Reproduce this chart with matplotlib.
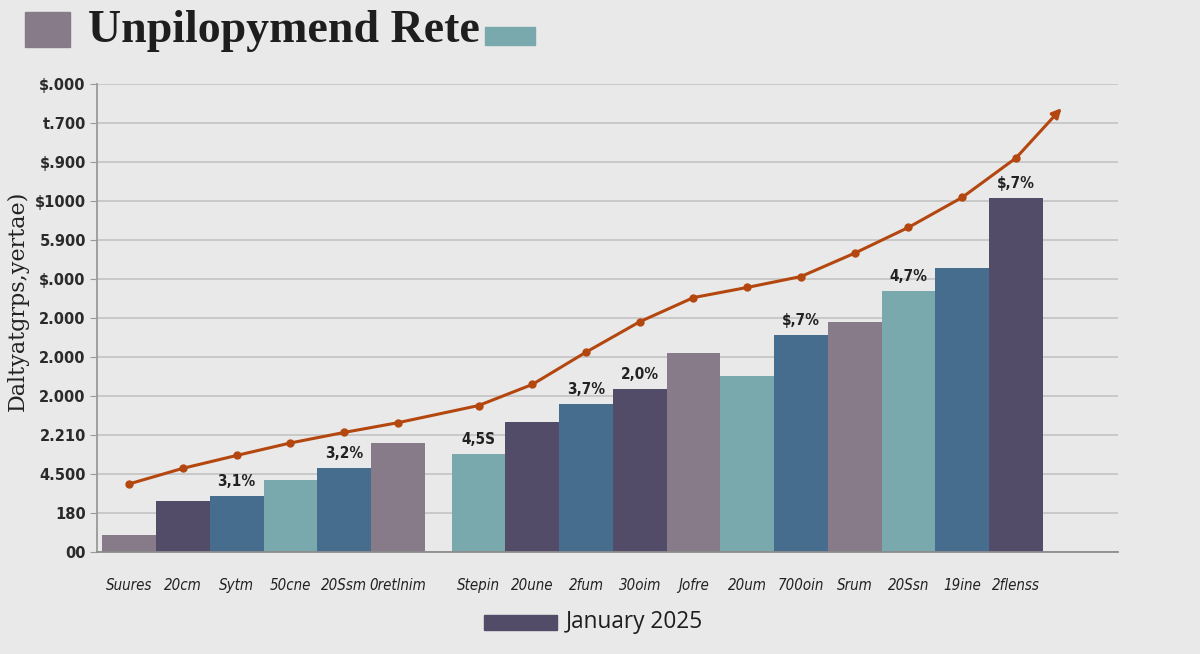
import numpy as np
import matplotlib
matplotlib.use("Agg")
import matplotlib.pyplot as plt
from matplotlib.patches import Rectangle

# ---------------- data ----------------
categories = ["Suures", "20cm", "Sytm", "50cne", "20Ssm", "0retlnim",
              "Stepin", "20une", "2fum", "30oim", "Jofre", "20um",
              "700oin", "Srum", "20Ssn", "19ine", "2flenss"]
bar_values = [0.42, 1.31, 1.42, 1.83, 2.16, 2.78, 2.50, 3.34, 3.78, 4.18,
              5.10, 4.50, 5.56, 5.90, 6.68, 7.27, 9.08]
line_values = [1.74, 2.14, 2.47, 2.79, 3.06, 3.31, 3.75, 4.29, 5.12, 5.90,
               6.52, 6.78, 7.06, 7.66, 8.32, 9.09, 10.10]
arrow_tip = (17.35, 11.38)
bar_color_keys = ["m", "d", "s", "t", "s", "m", "t", "d", "s", "d",
                  "m", "t", "s", "m", "t", "s", "d"]
bar_labels = {2: "3,1%", 4: "3,2%", 6: "4,5S", 8: "3,7%", 9: "2,0%",
              12: "$,7%", 14: "4,7%", 16: "$,7%"}
ytick_labels = ["00", "180", "4.500", "2.210", "2.000", "2.000", "2.000",
                "$.000", "5.900", "$1000", "$.900", "t.700", "$.000"]
title = "Unpilopymend Rete"
ylabel = "Daltyatgrps,yertae)"
legend_label = "January 2025"

palette = {"m": "#887b89", "d": "#524c69", "s": "#476d8e", "t": "#7aa9ad"}
bg = "#e9e9e9"
line_color = "#b4470f"

# ---------------- figure ----------------
fig = plt.figure(figsize=(12, 6.54), dpi=100, facecolor=bg)
ax = fig.add_axes([0.0808, 0.1564, 0.9317 - 0.0808, 0.8716 - 0.1564])
ax.set_facecolor(bg)

idx = np.arange(len(categories))
xpos = idx + 0.5 * (idx >= 6)
colors = [palette[k] for k in bar_color_keys]

ax.bar(xpos, bar_values, width=1.0, color=colors, edgecolor="none", zorder=2)

ax.plot(xpos, line_values, color=line_color, lw=2.2, marker="o", ms=5,
        zorder=4)
ax.annotate("", xy=arrow_tip, xytext=(xpos[-1], line_values[-1]),
            arrowprops=dict(arrowstyle="-|>", color=line_color, lw=2.2,
                            mutation_scale=14, shrinkA=0, shrinkB=0),
            zorder=4)

for i, txt in bar_labels.items():
    ax.text(xpos[i], bar_values[i] + 0.18, txt, ha="center", va="bottom",
            fontsize=11, color="#222222", fontweight="semibold",
            family="DejaVu Sans", stretch="condensed", zorder=5)

ax.set_xlim(-0.6, 18.4)
ax.set_ylim(0, 12)
ax.set_yticks(np.arange(13))
ax.set_yticklabels(ytick_labels, fontsize=10.5, fontweight="bold",
                   color="#2a2a2a")
ax.yaxis.grid(True, color="#c6c6c6", lw=1.3, zorder=0)
ax.set_axisbelow(True)
ax.tick_params(axis="y", length=5, color="#9a9a9a", pad=3)

ax.set_xticks(xpos)
ax.set_xticklabels(categories, fontsize=10.8, style="italic",
                   family="DejaVu Sans", stretch="condensed",
                   color="#222222")
ax.tick_params(axis="x", length=0, pad=19)

for s in ["top", "right"]:
    ax.spines[s].set_visible(False)
ax.spines["left"].set_color("#999999")
ax.spines["left"].set_linewidth(1.3)
ax.spines["bottom"].set_color("#8c8c8c")
ax.spines["bottom"].set_linewidth(1.3)

ax.set_ylabel(ylabel, family="DejaVu Serif", fontsize=16, color="#222222")
ax.yaxis.set_label_coords(-0.067, 0.536)

# title with decorative squares
fig.patches.append(Rectangle((25 / 1200, 1 - 47 / 654), 45 / 1200, 35 / 654,
                             transform=fig.transFigure,
                             color=palette["m"], zorder=3))
fig.text(88 / 1200, 1 - 31 / 654, title, family="Liberation Serif",
         fontweight="bold", fontsize=33, color="#1e1e1e", va="center",
         ha="left")
fig.patches.append(Rectangle((485 / 1200, 1 - 45 / 654), 50 / 1200, 18 / 654,
                             transform=fig.transFigure,
                             color=palette["t"], zorder=3))

# legend
fig.patches.append(Rectangle((484 / 1200, 1 - 630 / 654), 73 / 1200,
                             15 / 654, transform=fig.transFigure,
                             color=palette["d"]))
fig.text(566 / 1200, 1 - 622 / 654, legend_label, fontsize=16.3,
         family="Open Sans", color="#1e1e1e", va="center", ha="left")

fig.savefig("out.png", dpi=100, facecolor=bg)
